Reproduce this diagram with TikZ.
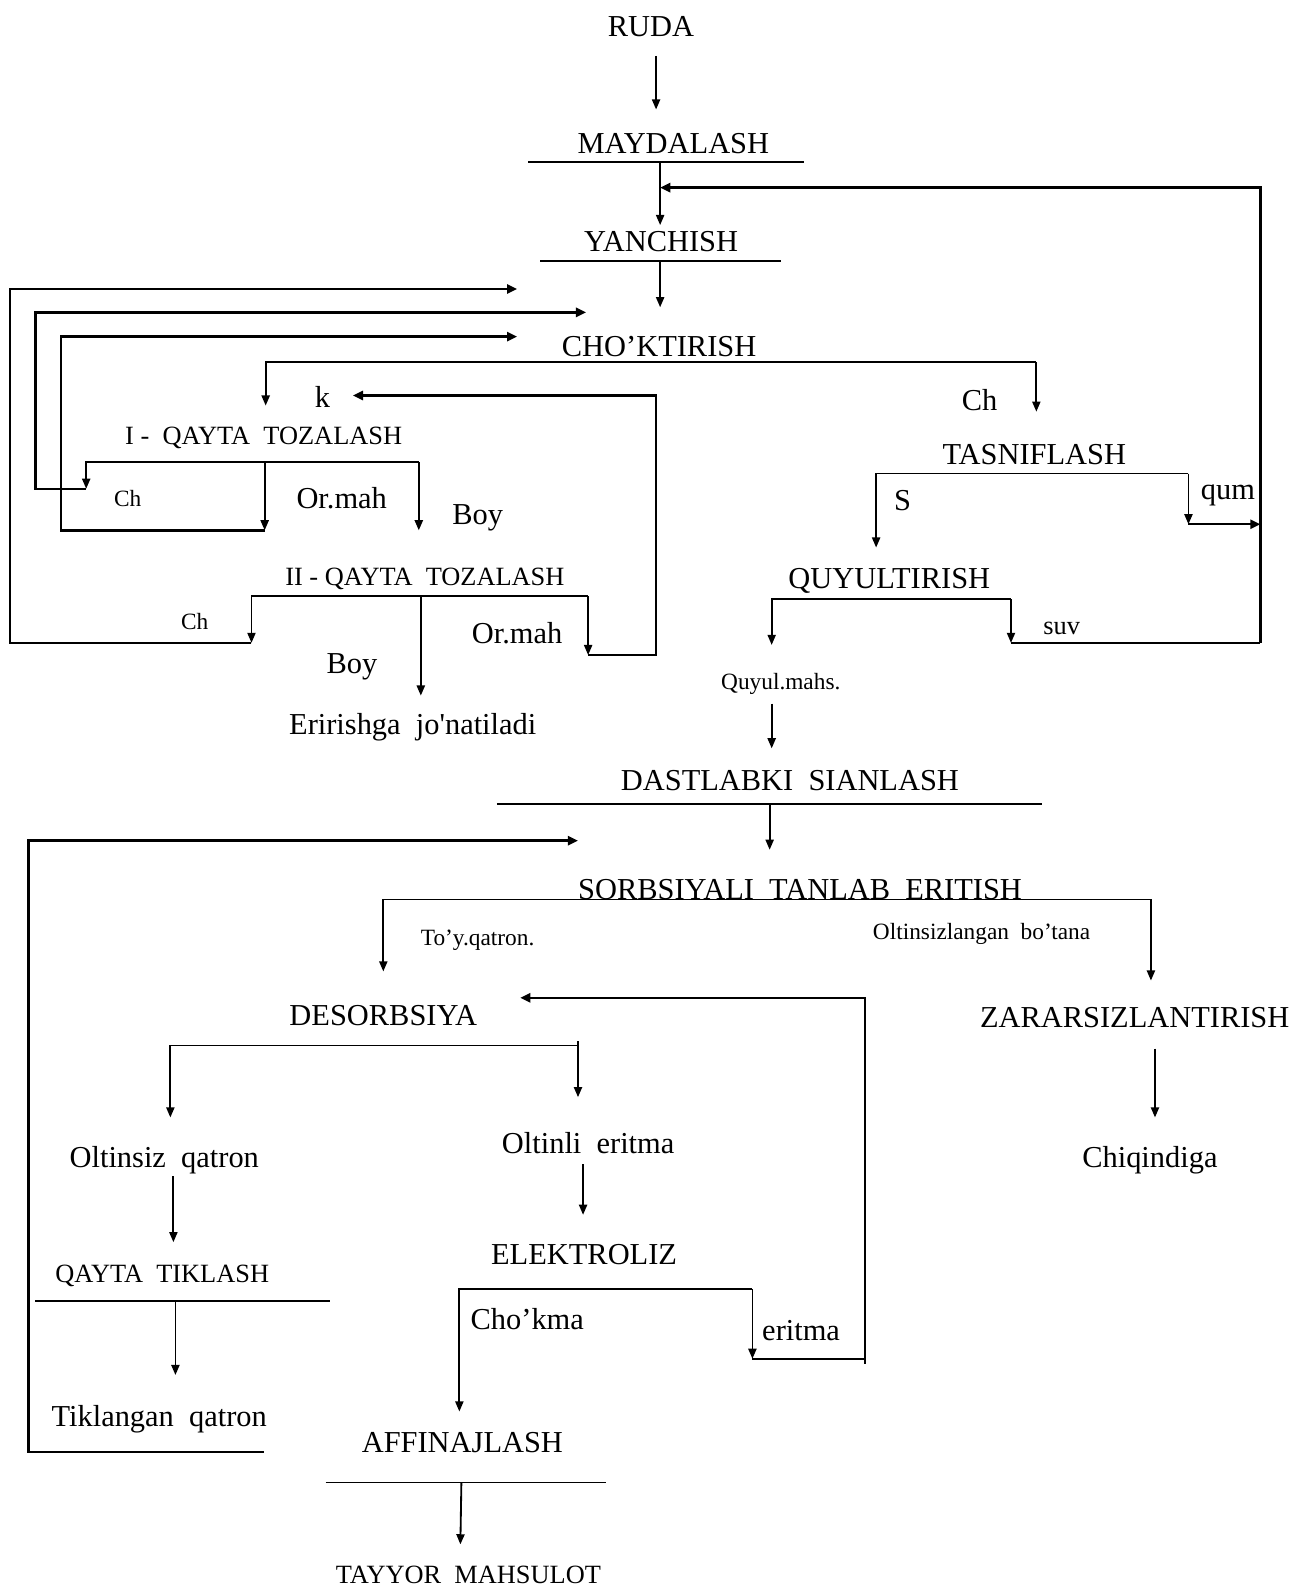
\documentclass[tikz,border=0pt]{standalone}
\usepackage{fontspec}
\setmainfont{Liberation Serif}
\usetikzlibrary{arrows.meta}
\begin{document}
\begin{tikzpicture}[x=0.5pt,y=-0.5pt,
  big/.style={font=\fontsize{15}{18}\selectfont,inner sep=0pt,anchor=base},
  mid/.style={font=\fontsize{13}{16}\selectfont,inner sep=0pt,anchor=base},
  sml/.style={font=\fontsize{11.5}{14}\selectfont,inner sep=0pt,anchor=base},
  ln/.style={line width=0.9pt},
  arr/.style={line width=0.9pt,-{Triangle[length=5pt,width=4pt]}},
  farr/.style={line width=1.2pt,-{Triangle[length=5pt,width=4.5pt]}}]
\useasboundingbox (0,0) rectangle (1280,1568);
% texts
\node[big] (ruda) at (642,36) {RUDA};
\node[big] (mayd) at (664,151) {MAYDALASH};
\node[big] (yanch) at (652,248) {YANCHISH};
\node[big] (chok) at (650,352) {CHO’KTIRISH};
\node[big] (k) at (318,402) {k};
\node[big] (chr) at (966,405) {Ch};
\node[mid] (q1) at (260,438) {I -\ \ QAYTA\ \ TOZALASH};
\node[sml] (ch1) at (126,499) {Ch};
\node[big] (om1) at (337,501) {Or.mah};
\node[big] (boy1) at (471,517) {Boy};
\node[mid] (q2) at (419,577) {II - QAYTA\ \ TOZALASH};
\node[sml] (ch2) at (192,621) {Ch};
\node[big] (om2) at (510,635) {Or.mah};
\node[big] (boy2) at (347,664) {Boy};
\node[big] (erir) at (407,724) {Eririshga\ \ jo\textquotesingle natiladi};
\node[big] (tasn) at (1020,458) {TASNIFLASH};
\node[big] (s) at (890,503) {S};
\node[big] (qum) at (1211,493) {qum};
\node[big] (quy) at (877,580) {QUYULTIRISH};
\node[mid] (suv) at (1047,626) {suv};
\node[sml] (qmahs) at (770,680) {Quyul.mahs.};
\node[big] (dast) at (779,780) {DASTLABKI\ \ SIANLASH};
\node[big] (sorb) at (789,887) {SORBSIYALI\ \ TANLAB\ \ ERITISH};
\node[sml] (toy) at (471,932) {To’y.qatron.};
\node[sml] (oltb) at (968,926) {Oltinsizlangan\ \ bo’tana};
\node[big] (des) at (378,1011) {DESORBSIYA};
\node[big] (zar) at (1119,1013) {ZARARSIZLANTIRISH};
\node[big] (chiq) at (1134,1151) {Chiqindiga};
\node[big] (oltq) at (162,1151) {Oltinsiz\ \ qatron};
\node[big] (olte) at (580,1138) {Oltinli\ \ eritma};
\node[mid] (qtik) at (160,1265) {QAYTA\ \ TIKLASH};
\node[big] (elek) at (576,1247) {ELEKTROLIZ};
\node[big] (chkm) at (520,1311) {Cho’kma};
\node[big] (erit) at (790,1322) {eritma};
\node[big] (tikq) at (157,1407) {Tiklangan\ \ qatron};
\node[big] (affi) at (456,1432) {AFFINAJLASH};
\node[mid] (tayy) at (462,1562) {TAYYOR\ \ MAHSULOT};
% top chain
\draw[arr] (647,55) -- (647,108);
\draw[ln] (521,160) -- (793,160);
\draw[arr] (651,160) -- (651,222);
\draw[farr] (1243,634) -- (1243,185) -- (651,185);
\draw[ln] (533,257) -- (770,257);
\draw[arr] (651,257) -- (651,303);
% left feedback loops to CHO'KTIRISH
\draw[farr] (248,634) -- (10,634) -- (10,285) -- (510,285);
\draw[farr] (85,482) -- (35,482) -- (35,308) -- (578,308);
\draw[farr] (261,523) -- (60,523) -- (60,332) -- (510,332);
% CHO'KTIRISH split
\draw[arr] (1022,357) -- (262,357) -- (262,400);
\draw[arr] (1022,357) -- (1022,406);
% k return
\draw[farr] (580,646) -- (647,646) -- (647,390) -- (348,390);
% I QAYTA split
\draw[arr] (413,456) -- (85,456) -- (85,482);
\draw[arr] (261,456) -- (261,523);
\draw[arr] (413,456) -- (413,523);
% II QAYTA split
\draw[arr] (580,588) -- (248,588) -- (248,634);
\draw[arr] (415,588) -- (415,686);
\draw[arr] (580,588) -- (580,646);
% TASNIFLASH split
\draw[arr] (1172,467) -- (864,467) -- (864,540);
\draw[arr] (1172,467) -- (1172,517);
\draw[farr] (1172,517) -- (1243,517);
% QUYULTIRISH split
\draw[arr] (997,591) -- (761,591) -- (761,636);
\draw[arr] (997,591) -- (997,634);
\draw[ln] (997,634) -- (1243,634);
\draw[arr] (761,694) -- (761,738);
% DASTLABKI
\draw[ln] (490,793) -- (1028,793);
\draw[arr] (759,793) -- (759,838);
% left big loop
\draw[farr] (260,1432) -- (28,1432) -- (28,829) -- (570,829);
% SORBSIYA split
\draw[arr] (1135,887) -- (378,887) -- (378,958);
\draw[arr] (1135,887) -- (1135,967);
% DESORBSIYA return
\draw[farr] (742,1340) -- (853,1340) -- (853,984) -- (513,984);
\draw[ln] (853,1340) -- (853,1345);
% ZARARSIZ
\draw[arr] (1139,1034) -- (1139,1102);
% DESORBSIYA split
\draw[arr] (570,1031) -- (168,1031) -- (168,1102);
\draw[arr] (570,1027) -- (570,1082);
\draw[arr] (171,1160) -- (171,1225);
\draw[arr] (575,1148) -- (575,1198);
% QAYTA TIKLASH
\draw[ln] (35,1283) -- (325,1283);
\draw[arr] (173,1283) -- (173,1356);
% ELEKTROLIZ split
\draw[arr] (742,1271) -- (453,1271) -- (453,1392);
\draw[arr] (742,1271) -- (742,1340);
% AFFINAJLASH
\draw[ln] (321,1462) -- (598,1462);
\draw[arr] (455,1462) -- (454,1523);
\end{tikzpicture}
\end{document}
